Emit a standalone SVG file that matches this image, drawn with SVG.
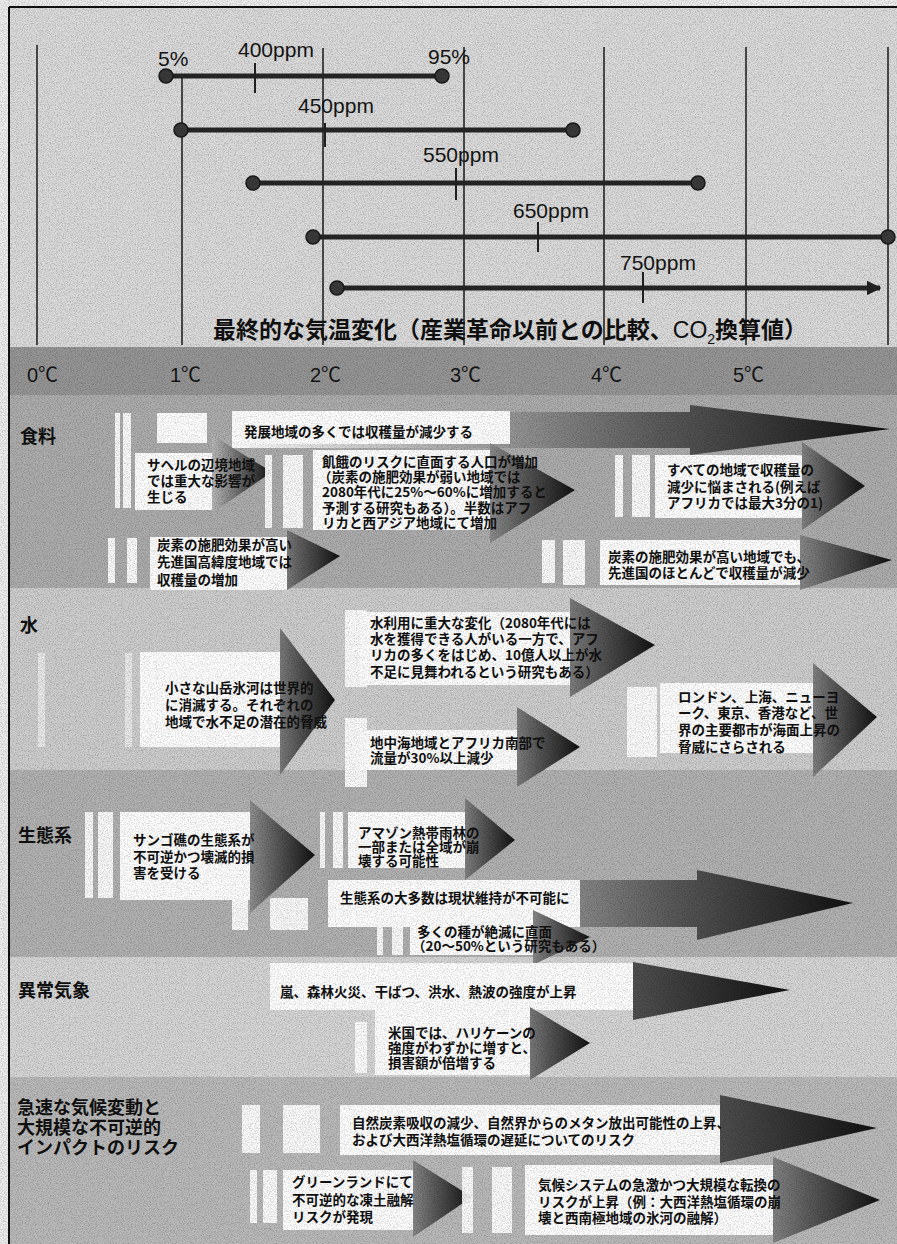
<svg xmlns="http://www.w3.org/2000/svg" width="897" height="1244" viewBox="0 0 897 1244">
<defs>
<linearGradient id="ag" x1="0" y1="0" x2="1" y2="0">
<stop offset="0" stop-color="#ffffff"/><stop offset="0.55" stop-color="#bdbdbd"/><stop offset="0.8" stop-color="#5a5a5a"/><stop offset="1" stop-color="#111111"/>
</linearGradient>
<linearGradient id="ag2" x1="0" y1="0" x2="1" y2="0">
<stop offset="0" stop-color="#ffffff"/><stop offset="0.35" stop-color="#a8a8a8"/><stop offset="0.65" stop-color="#5a5a5a"/><stop offset="1" stop-color="#111111"/>
</linearGradient>
<filter id="noise" x="0" y="0" width="100%" height="100%">
<feTurbulence type="fractalNoise" baseFrequency="0.85" numOctaves="2" seed="7" result="t"/>
<feColorMatrix in="t" type="matrix" values="0 0 0 0 0  0 0 0 0 0  0 0 0 0 0  1.6 0 0 0 -0.66"/>
</filter>
<marker id="ah" viewBox="0 0 10 10" refX="9" refY="5" markerWidth="3" markerHeight="3" orient="auto">
<path d="M0,0 L10,5 L0,10 z" fill="#222"/>
</marker>
</defs>
<style>
.lbl{font-family:"Liberation Sans",Arial,sans-serif;font-size:21px;fill:#151515}
.deg{font-family:"Liberation Sans","Noto Sans CJK JP",sans-serif;font-size:20px;fill:#151515}
.jp{font-family:"Noto Sans CJK JP",sans-serif;font-weight:700;font-size:13.5px;fill:#111}
.sec{font-family:"Noto Sans CJK JP",sans-serif;font-weight:700;font-size:18px;fill:#111}
.title{font-family:"Noto Sans CJK JP",sans-serif;font-weight:700;font-size:23px;fill:#111}
.grid{stroke:#1a1a1a;stroke-width:1.5}
.bar{stroke:#262626;stroke-width:5;fill:none}
.tick{stroke:#222;stroke-width:2}
.dot{fill:#3a3a3a;stroke:#1a1a1a;stroke-width:1.5}
.box{fill:#ffffff}
.strip{fill:#ffffff;opacity:0.92}
.faint{fill:#ffffff;opacity:0.55}
.arr{fill:url(#ag)}
.arr2{fill:url(#ag2)}
</style>

<!-- backgrounds -->
<rect x="0" y="0" width="897" height="1244" fill="#ececec"/>
<rect x="9" y="7" width="888" height="340" fill="#dadada"/>
<rect x="9" y="347" width="888" height="48" fill="#959595"/>
<rect x="9" y="395" width="888" height="193" fill="#acacac"/>
<rect x="9" y="588" width="888" height="182" fill="#cdcdcd"/>
<rect x="9" y="770" width="888" height="187" fill="#b1b1b1"/>
<rect x="9" y="957" width="888" height="120" fill="#d5d5d5"/>
<rect x="9" y="1077" width="888" height="167" fill="#b9b9b9"/>
<line x1="9" y1="7" x2="897" y2="7" stroke="#111" stroke-width="2"/>
<line x1="9" y1="7" x2="9" y2="1244" stroke="#111" stroke-width="2"/>

<!-- top chart -->
<g id="chart">
<line class="grid" x1="37" y1="45" x2="37" y2="345"/>
<line class="grid" x1="182" y1="77" x2="182" y2="345"/>
<line class="grid" x1="323" y1="48" x2="323" y2="345"/>
<line class="grid" x1="464" y1="47" x2="464" y2="345"/>
<line class="grid" x1="604" y1="47" x2="604" y2="345"/>
<line class="grid" x1="746" y1="47" x2="746" y2="345"/>
<line class="grid" x1="888" y1="47" x2="888" y2="345"/>
<text class="title" x="213" y="338">最終的な気温変化（産業革命以前との比較、<tspan font-family="Liberation Sans,sans-serif" font-weight="400">CO</tspan><tspan font-family="Liberation Sans,sans-serif" font-weight="400" font-size="14" dy="6">2</tspan><tspan dy="-6">換算値）</tspan></text>
</g>

<g id="connectors">
<line class="bar" x1="166" y1="76" x2="442" y2="76"/>
<line class="bar" x1="181" y1="130" x2="573" y2="130"/>
<line class="bar" x1="253" y1="183" x2="698" y2="183"/>
<line class="bar" x1="313" y1="237" x2="888" y2="237"/>
<line class="bar" x1="337" y1="288" x2="880" y2="288" marker-end="url(#ah)"/>
</g>

<g id="ppm400">
<circle class="dot" cx="166" cy="76" r="7"/><circle class="dot" cx="442" cy="76" r="7"/>
<line class="tick" x1="255" y1="63" x2="255" y2="93"/>
<text class="lbl" x="238" y="57">400ppm</text>
<text class="lbl" x="158" y="66">5%</text>
<text class="lbl" x="428" y="64">95%</text>
</g>
<g id="ppm450">
<circle class="dot" cx="181" cy="130" r="7"/><circle class="dot" cx="573" cy="130" r="7"/>
<line class="tick" x1="325" y1="123" x2="325" y2="147"/>
<text class="lbl" x="298" y="113">450ppm</text>
</g>
<g id="ppm550">
<circle class="dot" cx="253" cy="183" r="7"/><circle class="dot" cx="698" cy="183" r="7"/>
<line class="tick" x1="456" y1="168" x2="456" y2="200"/>
<text class="lbl" x="423" y="162">550ppm</text>
</g>
<g id="ppm650">
<circle class="dot" cx="313" cy="237" r="7"/><circle class="dot" cx="888" cy="237" r="7"/>
<line class="tick" x1="538" y1="222" x2="538" y2="252"/>
<text class="lbl" x="513" y="218">650ppm</text>
</g>
<g id="ppm750">
<circle class="dot" cx="337" cy="288" r="7"/>
<line class="tick" x1="643" y1="272" x2="643" y2="303"/>
<text class="lbl" x="620" y="270">750ppm</text>
</g>

<g id="axis">
<text class="deg" x="27" y="382">0℃</text>
<text class="deg" x="170" y="382">1℃</text>
<text class="deg" x="310" y="382">2℃</text>
<text class="deg" x="450" y="382">3℃</text>
<text class="deg" x="591" y="382">4℃</text>
<text class="deg" x="733" y="382">5℃</text>
</g>

<!-- section labels -->
<g id="sec-food"><text class="sec" x="20" y="443">食料</text></g>
<g id="sec-water"><text class="sec" x="20" y="632">水</text></g>
<g id="sec-eco"><text class="sec" x="18" y="842">生態系</text></g>
<g id="sec-weather"><text class="sec" x="18" y="997">異常気象</text></g>
<g id="sec-risk">
<text class="sec" x="17" y="1114">急速な気候変動と<tspan x="17" dy="20">大規模な不可逆的</tspan><tspan x="17" dy="20">インパクトのリスク</tspan></text>
</g>

<!-- food -->
<g id="food-a">
<polygon class="arr2" points="232,412 690,412 690,405 890,429 690,455 690,448 232,448"/>
<rect class="box" x="157" y="413" width="50" height="30"/>
<rect class="box" x="232" y="411" width="278" height="33"/>
<text class="jp" x="244" y="437">発展地域の多くでは収穫量が減少する</text>
</g>
<g id="food-b">
<rect class="strip" x="115" y="413" width="5" height="95"/><rect class="strip" x="123" y="413" width="8" height="95"/>
<polygon class="arr" points="135,453 212,453 212,435 272,472 212,513 212,510 135,510"/>
<rect class="box" x="135" y="453" width="77" height="57"/>
<text class="jp" x="147" y="470">サヘルの辺境地域<tspan x="147" dy="16">では重大な影響が</tspan><tspan x="147" dy="16">生じる</tspan></text>
</g>
<g id="food-c">
<rect class="strip" x="265" y="455" width="7" height="73"/><rect class="strip" x="283" y="455" width="20" height="73"/>
<polygon class="arr" points="313,452 490,452 490,443 575,490 490,543 490,528 313,528"/>
<rect class="box" x="313" y="450" width="177" height="80"/>
<text class="jp" x="322" y="467">飢餓のリスクに直面する人口が増加<tspan x="318" dy="15">（炭素の施肥効果が弱い地域では</tspan><tspan x="322" dy="15">2080年代に25%～60%に増加すると</tspan><tspan x="322" dy="16">予測する研究もある）。半数はアフ</tspan><tspan x="322" dy="15">リカと西アジア地域にて増加</tspan></text>
</g>
<g id="food-d">
<rect class="strip" x="615" y="455" width="8" height="62"/><rect class="strip" x="632" y="455" width="18" height="62"/>
<polygon class="arr" points="655,456 802,456 802,442 865,486 802,530 802,517 655,517"/>
<rect class="box" x="655" y="455" width="147" height="63"/>
<text class="jp" x="667" y="475">すべての地域で収穫量の<tspan x="667" dy="17">減少に悩まされる(例えば</tspan><tspan x="667" dy="16">アフリカでは最大3分の1)</tspan></text>
</g>
<g id="food-e">
<rect class="strip" x="108" y="538" width="7" height="45"/><rect class="strip" x="127" y="538" width="10" height="45"/>
<polygon class="arr" points="150,538 287,538 287,530 340,556 287,590 287,588 150,588"/>
<rect class="box" x="150" y="537" width="137" height="53"/>
<text class="jp" x="157" y="550">炭素の施肥効果が高い<tspan x="157" dy="17">先進国高緯度地域では</tspan><tspan x="157" dy="18">収穫量の増加</tspan></text>
</g>
<g id="food-f">
<rect class="strip" x="542" y="540" width="13" height="43"/><rect class="strip" x="563" y="540" width="22" height="45"/>
<polygon class="arr" points="600,540 800,540 800,535 892,560 800,590 800,585 600,585"/>
<rect class="box" x="600" y="540" width="200" height="45"/>
<text class="jp" x="608" y="562">炭素の施肥効果が高い地域でも、<tspan x="608" dy="16">先進国のほとんどで収穫量が減少</tspan></text>
</g>

<!-- water -->
<g id="water-g">
<rect class="faint" x="38" y="653" width="7" height="94"/><rect class="faint" x="125" y="653" width="7" height="94"/>
<polygon class="arr" points="140,652 280,652 280,628 335,700 280,775 280,747 140,747"/>
<rect class="box" x="140" y="652" width="140" height="95"/>
<text class="jp" x="165" y="693">小さな山岳氷河は世界的<tspan x="165" dy="17">に消滅する。それぞれの</tspan><tspan x="165" dy="17">地域で水不足の潜在的脅威</tspan></text>
</g>
<g id="water-h">
<rect class="strip" x="345" y="610" width="22" height="77"/>
<polygon class="arr" points="360,612 570,612 570,598 655,645 570,697 570,685 360,685"/>
<rect class="box" x="360" y="612" width="210" height="73"/>
<text class="jp" x="370" y="628">水利用に重大な変化（2080年代には<tspan x="370" dy="16">水を獲得できる人がいる一方で、アフ</tspan><tspan x="370" dy="16">リカの多くをはじめ、10億人以上が水</tspan><tspan x="370" dy="17">不足に見舞われるという研究もある）</tspan></text>
</g>
<g id="water-i">
<rect class="strip" x="345" y="718" width="22" height="69"/>
<polygon class="arr" points="360,730 517,730 517,707 580,747 517,787 517,770 360,770"/>
<rect class="box" x="360" y="730" width="157" height="40"/>
<text class="jp" x="370" y="748">地中海地域とアフリカ南部で<tspan x="370" dy="15">流量が30%以上減少</tspan></text>
</g>
<g id="water-j">
<rect class="strip" x="627" y="687" width="30" height="70"/>
<polygon class="arr" points="660,683 813,683 813,663 877,717 813,777 813,753 660,753"/>
<rect class="box" x="660" y="683" width="153" height="70"/>
<text class="jp" x="678" y="702">ロンドン、上海、ニューヨ<tspan x="678" dy="16">ーク、東京、香港など、世</tspan><tspan x="678" dy="17">界の主要都市が海面上昇の</tspan><tspan x="678" dy="17">脅威にさらされる</tspan></text>
</g>

<!-- ecosystems -->
<g id="eco-k">
<rect class="strip" x="85" y="812" width="8" height="86"/><rect class="strip" x="98" y="812" width="15" height="86"/>
<polygon class="arr" points="120,812 250,812 250,800 315,855 250,913 250,900 120,900"/>
<rect class="box" x="120" y="812" width="130" height="88"/>
<rect class="strip" x="232" y="900" width="16" height="30"/><rect class="strip" x="270" y="898" width="38" height="32"/>
<text class="jp" x="133" y="845">サンゴ礁の生態系が<tspan x="133" dy="17">不可逆かつ壊滅的損</tspan><tspan x="133" dy="16">害を受ける</tspan></text>
</g>
<g id="eco-l">
<rect class="strip" x="320" y="812" width="5" height="56"/><rect class="strip" x="333" y="812" width="10" height="56"/>
<polygon class="arr" points="348,812 465,812 465,798 515,840 465,880 465,868 348,868"/>
<rect class="box" x="348" y="812" width="117" height="56"/>
<text class="jp" x="358" y="838">アマゾン熱帯雨林の<tspan x="358" dy="14">一部または全域が崩</tspan><tspan x="358" dy="14">壊する可能性</tspan></text>
</g>
<g id="eco-m">
<polygon class="arr2" points="328,880 697,880 697,870 853,903 697,940 697,927 328,927"/>
<rect class="box" x="328" y="880" width="252" height="47"/>
<text class="jp" x="340" y="903">生態系の大多数は現状維持が不可能に</text>
</g>
<g id="eco-n">
<rect class="strip" x="377" y="927" width="6" height="28"/><rect class="strip" x="392" y="927" width="11" height="28"/>
<polygon class="arr" points="410,920 533,920 533,910 590,937 533,965 533,955 410,955"/>
<rect class="box" x="410" y="920" width="123" height="35"/>
<text class="jp" x="417" y="937">多くの種が絶滅に直面<tspan x="412" dy="14">（20～50%という研究もある）</tspan></text>
</g>

<!-- extreme weather -->
<g id="weather-o">
<polygon class="arr2" points="270,963 633,963 633,962 790,990 633,1020 633,1010 270,1010"/>
<rect class="box" x="270" y="963" width="363" height="47"/>
<text class="jp" x="280" y="997">嵐、森林火災、干ばつ、洪水、熱波の強度が上昇</text>
</g>
<g id="weather-p">
<rect class="strip" x="355" y="1022" width="12" height="51"/>
<polygon class="arr" points="375,1010 530,1010 530,1007 590,1043 530,1080 530,1075 375,1075"/>
<rect class="box" x="375" y="1010" width="155" height="65"/>
<text class="jp" x="388" y="1038">米国では、ハリケーンの<tspan x="388" dy="15">強度がわずかに増すと、</tspan><tspan x="388" dy="15">損害額が倍増する</tspan></text>
</g>

<!-- abrupt change risks -->
<g id="risk-q">
<rect class="strip" x="242" y="1105" width="18" height="48"/><rect class="strip" x="283" y="1105" width="37" height="48"/>
<polygon class="arr2" points="340,1105 720,1105 720,1095 877,1128 720,1163 720,1155 340,1155"/>
<rect class="box" x="340" y="1105" width="380" height="50"/>
<text class="jp" x="352" y="1128">自然炭素吸収の減少、自然界からのメタン放出可能性の上昇、<tspan x="352" dy="17">および大西洋熱塩循環の遅延についてのリスク</tspan></text>
</g>
<g id="risk-r">
<rect class="strip" x="250" y="1170" width="7" height="53"/><rect class="strip" x="263" y="1170" width="14" height="53"/>
<polygon class="arr" points="283,1170 413,1170 413,1160 472,1197 413,1237 413,1230 283,1230"/>
<rect class="box" x="283" y="1170" width="130" height="60"/>
<text class="jp" x="292" y="1187">グリーンランドにて<tspan x="292" dy="18">不可逆的な凍土融解</tspan><tspan x="292" dy="17">リスクが発現</tspan></text>
</g>
<g id="risk-s">
<rect class="strip" x="462" y="1167" width="11" height="66"/><rect class="strip" x="492" y="1167" width="20" height="66"/>
<polygon class="arr" points="525,1165 773,1165 773,1157 880,1200 773,1243 773,1235 525,1235"/>
<rect class="box" x="525" y="1165" width="248" height="70"/>
<text class="jp" x="538" y="1190">気候システムの急激かつ大規模な転換の<tspan x="538" dy="17">リスクが上昇（例：大西洋熱塩循環の崩</tspan><tspan x="538" dy="16">壊と西南極地域の氷河の融解）</tspan></text>
</g>

<rect x="0" y="0" width="897" height="1244" filter="url(#noise)" opacity="0.3" pointer-events="none"/>
</svg>
